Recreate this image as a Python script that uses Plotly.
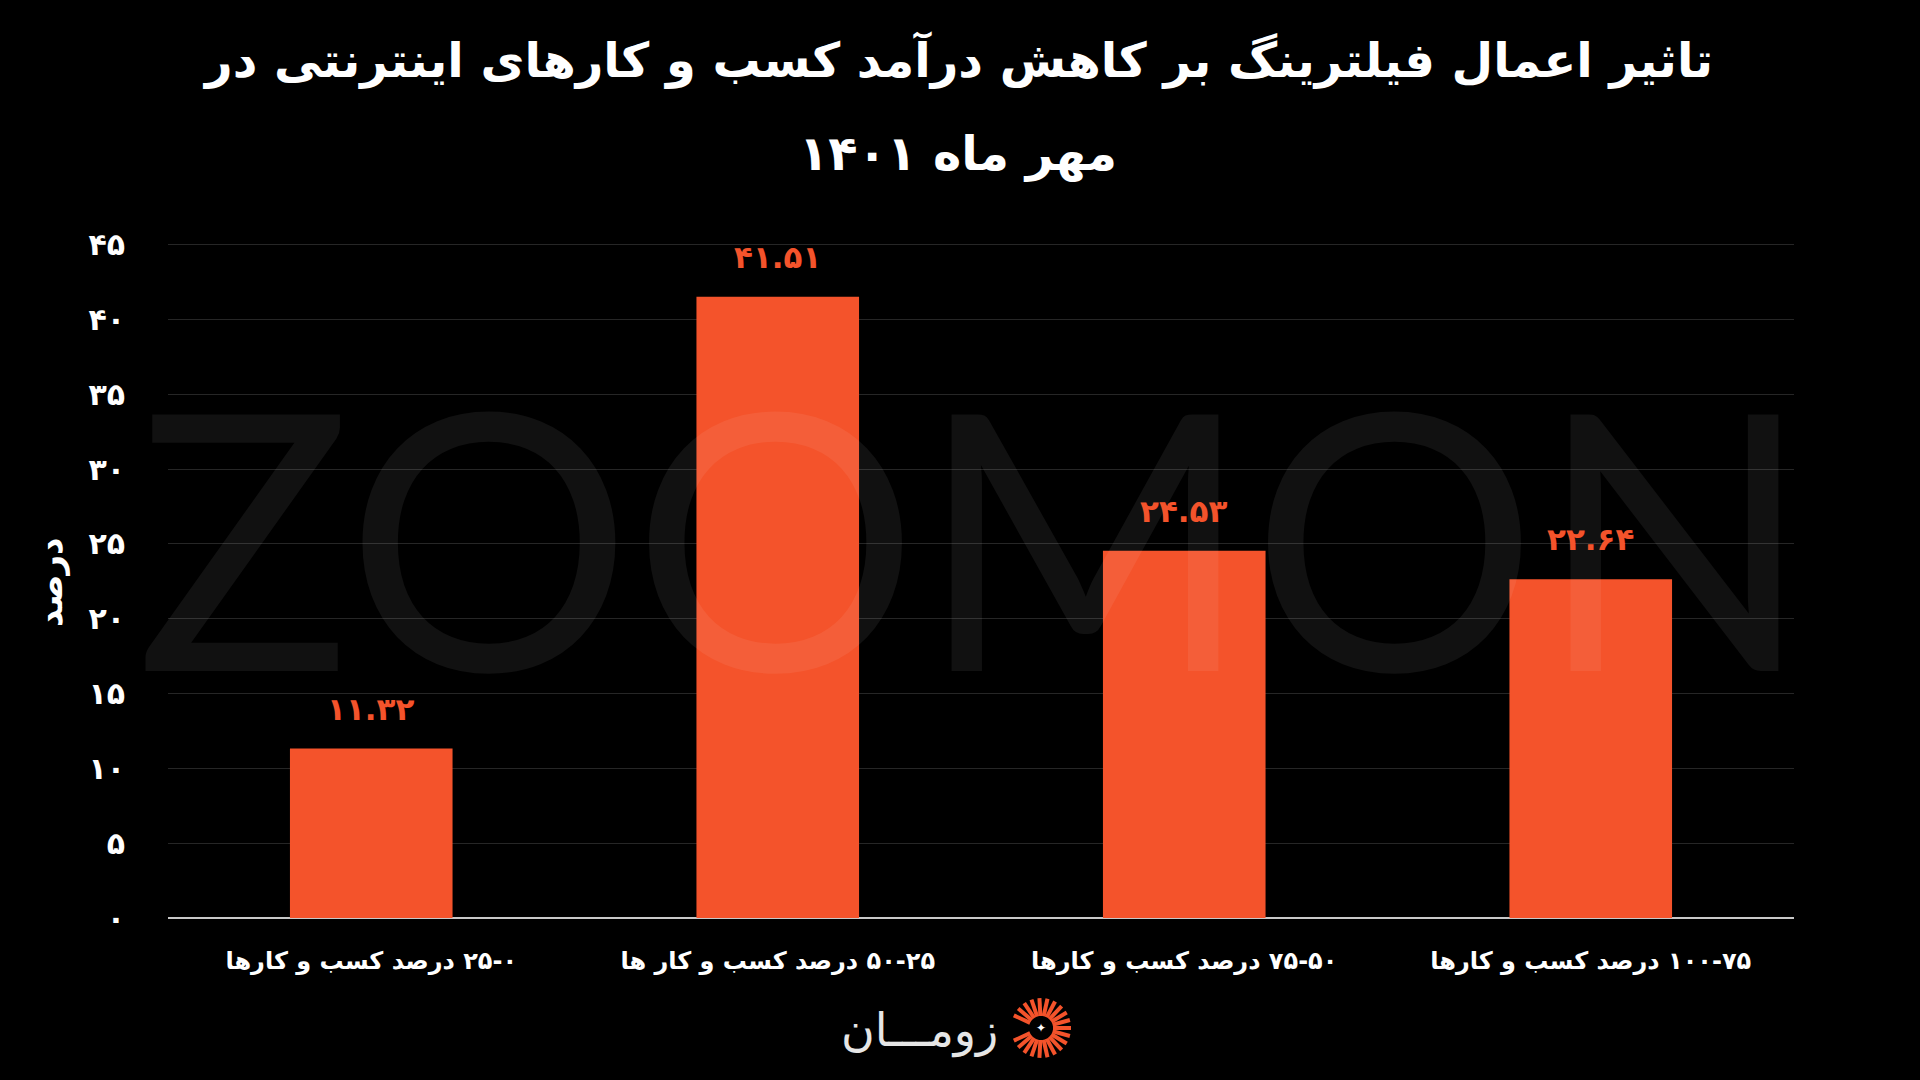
import math
import plotly.graph_objects as go

# ---- data ----
categories = [
    "۲۵-۰ درصد کسب و کارها",
    "۵۰-۲۵ درصد کسب و کار ها",
    "۷۵-۵۰ درصد کسب و کارها",
    "۱۰۰-۷۵ درصد کسب و کارها",
]
values = [11.32, 41.51, 24.53, 22.64]
y_ticks = [0, 5, 10, 15, 20, 25, 30, 35, 40, 45]
title_lines = ["تاثیر اعمال فیلترینگ بر کاهش درآمد کسب و کارهای اینترنتی در", "مهر ماه ۱۴۰۱"]
y_title = "درصد"
brand = "زومـــان"
watermark = "ZOOMON"

FA = str.maketrans("0123456789", "۰۱۲۳۴۵۶۷۸۹")


def fa(s):
    return str(s).translate(FA)


RLM = "\u200f"
ORANGE = "#F4532B"
FONT = "DejaVu Sans"

W, H = 1920, 1080
ML, MR, MT, MB = 168, 126, 243, 162
Y_MAX = 45.1
PW, PH = W - ML - MR, H - MT - MB


def px(xp):
    return (xp - ML) / PW


def py(yp):
    return (H - MB - yp) / PH


xcats = [RLM + c for c in categories]

fig = go.Figure()
fig.add_trace(go.Bar(
    x=xcats, y=values, marker=dict(color=ORANGE, line=dict(width=0)),
    width=0.4, hoverinfo="skip",
))

annotations = []
# watermark
annotations.append(dict(x=px(973), y=py(532), xref="paper", yref="paper", text=watermark,
                        showarrow=False, xanchor="center", yanchor="middle",
                        font=dict(family="Lato", size=358, color="rgba(255,255,255,0.065)")))
# value labels
for c, v in zip(xcats, values):
    annotations.append(dict(
        x=c, y=v, xref="x", yref="y", text=fa(f"{v:.2f}"), showarrow=False,
        yanchor="bottom", yshift=20,
        font=dict(family=FONT, size=31, color=ORANGE, weight="bold"),
    ))

# title lines
annotations.append(dict(x=px(958), y=py(60), xref="paper", yref="paper", text=title_lines[0],
                        showarrow=False, xanchor="center", yanchor="middle",
                        font=dict(family=FONT, size=48, color="white", weight="bold")))
annotations.append(dict(x=px(958), y=py(154), xref="paper", yref="paper", text=title_lines[1],
                        showarrow=False, xanchor="center", yanchor="middle",
                        font=dict(family=FONT, size=48, color="white", weight="bold")))
# y title
annotations.append(dict(x=px(50), y=py(582), xref="paper", yref="paper", text=y_title,
                        showarrow=False, xanchor="center", yanchor="middle", textangle=-90,
                        font=dict(family=FONT, size=34, color="white", weight="bold")))
# brand text
annotations.append(dict(x=px(1000), y=py(1030), xref="paper", yref="paper", text=brand,
                        showarrow=False, xanchor="right", yanchor="middle",
                        font=dict(family=FONT, size=46, color="#e6e6e6")))
# brand star
annotations.append(dict(x=px(1041), y=py(1028), xref="paper", yref="paper", text="✦",
                        showarrow=False, xanchor="center", yanchor="middle",
                        font=dict(family=FONT, size=12, color="white")))

# brand icon rays
shapes = []
cx, cy = 1041, 1028
r_in, r_out = 12, 30
ang = -155
while ang <= 155:
    a = math.radians(ang)
    x0, y0 = cx + r_in * math.cos(a), cy - r_in * math.sin(a)
    x1, y1 = cx + r_out * math.cos(a), cy - r_out * math.sin(a)
    shapes.append(dict(type="line", xref="paper", yref="paper",
                       x0=px(x0), y0=py(y0), x1=px(x1), y1=py(y1),
                       line=dict(color=ORANGE, width=4)))
    ang += 15.5

fig.update_layout(
    width=W, height=H,
    paper_bgcolor="black", plot_bgcolor="black",
    margin=dict(l=ML, r=MR, t=MT, b=MB, pad=0),
    showlegend=False,
    annotations=annotations,
    shapes=shapes,
    xaxis=dict(
        showgrid=False, zeroline=False, showline=False, ticks="",
        tickfont=dict(family=FONT, size=24, color="white", weight="bold"),
        ticklabelstandoff=26,
    ),
    yaxis=dict(
        range=[0, Y_MAX], tickvals=y_ticks, ticktext=[fa(t) for t in y_ticks],
        showgrid=True, gridcolor="#262626", gridwidth=1,
        zeroline=True, zerolinecolor="#c8c8c8", zerolinewidth=2,
        showline=False, ticks="",
        tickfont=dict(family=FONT, size=30, color="white", weight="bold"),
        ticklabelstandoff=42,
    ),
)

fig.write_html(
    "out.html",
    config={"displayModeBar": False},
    post_script="document.body.style.margin='0';document.body.style.background='black';",
)
